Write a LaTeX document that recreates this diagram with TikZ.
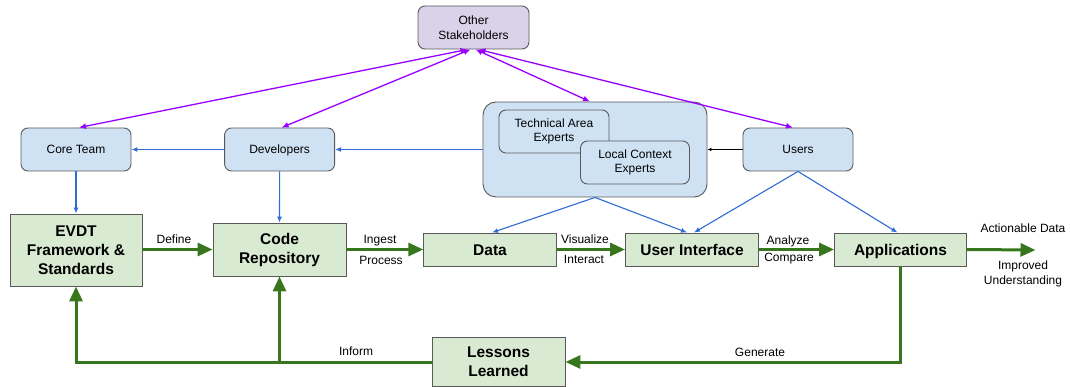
\documentclass[tikz,border=0pt]{standalone}
\usepackage{fontspec}
\setmainfont{Liberation Sans}
\usetikzlibrary{arrows.meta,calc}
\definecolor{bluefill}{HTML}{CFE2F3}
\definecolor{greenfill}{HTML}{D9EAD3}
\definecolor{purplefill}{HTML}{D9D2E9}
\definecolor{boxline}{HTML}{595959}
\definecolor{bluearrow}{HTML}{2F6AD5}
\definecolor{greenarrow}{HTML}{38761D}
\definecolor{purplearrow}{HTML}{9900FF}
\begin{document}
\begin{tikzpicture}[x=1pt,y=1pt,
  txt/.style={font=\fontsize{12}{14.5}\selectfont},
  bluebox/.style={draw=boxline,line width=0.9pt,fill=bluefill,rounded corners=7pt,align=center,inner sep=0pt,txt},
  oneblue/.style={bluebox,text height=11.6pt,text depth=3pt},
  purplebox/.style={draw=boxline,line width=0.9pt,fill=purplefill,rounded corners=7pt,align=center,inner sep=0pt,txt},
  greenbox/.style={draw=boxline,line width=0.9pt,fill=greenfill,align=center,inner sep=0pt,font=\bfseries\fontsize{15.5}{19}\selectfont},
  onegreen/.style={greenbox,text height=14pt,text depth=3pt},
  lbl/.style={inner sep=0pt,align=center,txt},
  parrow/.style={draw=purplearrow,line width=1.3pt,{Latex[length=7pt,width=6pt]}-{Latex[length=7pt,width=6pt]}},
  barrow/.style={draw=bluearrow,line width=1.1pt,-{Latex[length=6pt,width=5pt]}},
  garrow/.style={draw=greenarrow,line width=3pt,-{Triangle[length=15pt,width=13pt]}},
  gline/.style={draw=greenarrow,line width=3pt}
]
\useasboundingbox (0,0) rectangle (1070,-387);

% top row
\node[purplebox,minimum width=111pt,minimum height=43pt] (os) at (473.5,-27.5) {Other\\Stakeholders};
\node[oneblue,minimum width=110pt,minimum height=43pt] (core) at (76,-149.5) {Core Team};
\node[oneblue,minimum width=110pt,minimum height=43pt] (dev) at (279.6,-149.5) {Developers};
\node[bluebox,rounded corners=13pt,minimum width=224pt,minimum height=95pt] (cont) at (595,-149.5) {};
\node[bluebox,minimum width=110pt,minimum height=43pt] (tech) at (554,-131.5) {Technical Area\\Experts};
\node[bluebox,minimum width=109pt,minimum height=43pt] (local) at (635,-162.5) {Local Context\\Experts};
\node[oneblue,minimum width=110pt,minimum height=43pt] (users) at (798,-149.5) {Users};

% green row
\node[greenbox,minimum width=132pt,minimum height=72pt] (evdt) at (76,-250) {EVDT\\Framework \&\\Standards};
\node[greenbox,minimum width=133pt,minimum height=53pt] (code) at (279.5,-249.5) {Code\\Repository};
\node[onegreen,minimum width=132.5pt,minimum height=33pt] (data) at (490,-249.5) {Data};
\node[onegreen,minimum width=133pt,minimum height=33pt] (ui) at (692,-249.5) {User Interface};
\node[onegreen,minimum width=132pt,minimum height=33pt] (apps) at (900.5,-249.5) {Applications};
\node[greenbox,minimum width=133pt,minimum height=49pt] (lessons) at (498.5,-362) {Lessons\\Learned};
\coordinate (out) at (1035.5,-250);

% purple arrows
\draw[parrow] ([xshift=-6pt]os.south) -- ([xshift=3pt]core.north);
\draw[parrow] ([xshift=-3pt]os.south) -- ([xshift=2pt]dev.north);
\draw[parrow] ([xshift=2pt]os.south) -- ([xshift=-5pt]cont.north);
\draw[parrow] ([xshift=5pt]os.south) -- ([xshift=-5pt]users.north);

% blue arrows
\draw[barrow] (dev.west) -- (core.east);
\draw[barrow] (cont.west) -- (dev.east);
\draw[draw=black,line width=0.6pt,-{Latex[length=4pt,width=3.5pt]}] (users.west) -- (cont.east);
\draw[barrow] (core.south) -- (evdt.north);
\draw[barrow] (dev.south) -- (code.north);
\draw[barrow] (cont.south) -- ([xshift=2pt]data.north);
\draw[barrow] (cont.south) -- ([xshift=-5pt]ui.north);
\draw[barrow] (users.south) -- ([xshift=2pt]ui.north);
\draw[barrow] (users.south) -- ([xshift=-3pt]apps.north);

% green arrows
\draw[garrow] (evdt.east |- code.center) -- (code.west);
\draw[garrow] (code.east) -- (data.west);
\draw[garrow] (data.east) -- (ui.west);
\draw[garrow] (ui.east) -- (apps.west);
\draw[garrow] (apps.east) -- (out);
\draw[garrow] (apps.south) |- (lessons.east);
\draw[garrow] (lessons.west) -| (evdt.south);
\coordinate (br) at (code.south |- lessons.west);
\draw[garrow] (br) -- (code.south);

% labels
\node[lbl] (l1) at (174,-239) {Define};
\node[lbl] (l2) at (380,-241) {Ingest};
\node[lbl] (l3) at (381,-260) {Process};
\node[lbl] (l4) at (585,-239) {Visualize};
\node[lbl] (l5) at (584,-259) {Interact};
\node[lbl] (l6) at (788,-241) {Analyze};
\node[lbl] (l7) at (789,-259) {Compare};
\node[lbl] (l8) at (1023,-228) {Actionable Data};
\node[lbl] (l9) at (1023,-274) {Improved\\Understanding};
\node[lbl] (l10) at (760,-352) {Generate};
\node[lbl] (l11) at (356,-351) {Inform};
\end{tikzpicture}
\end{document}
